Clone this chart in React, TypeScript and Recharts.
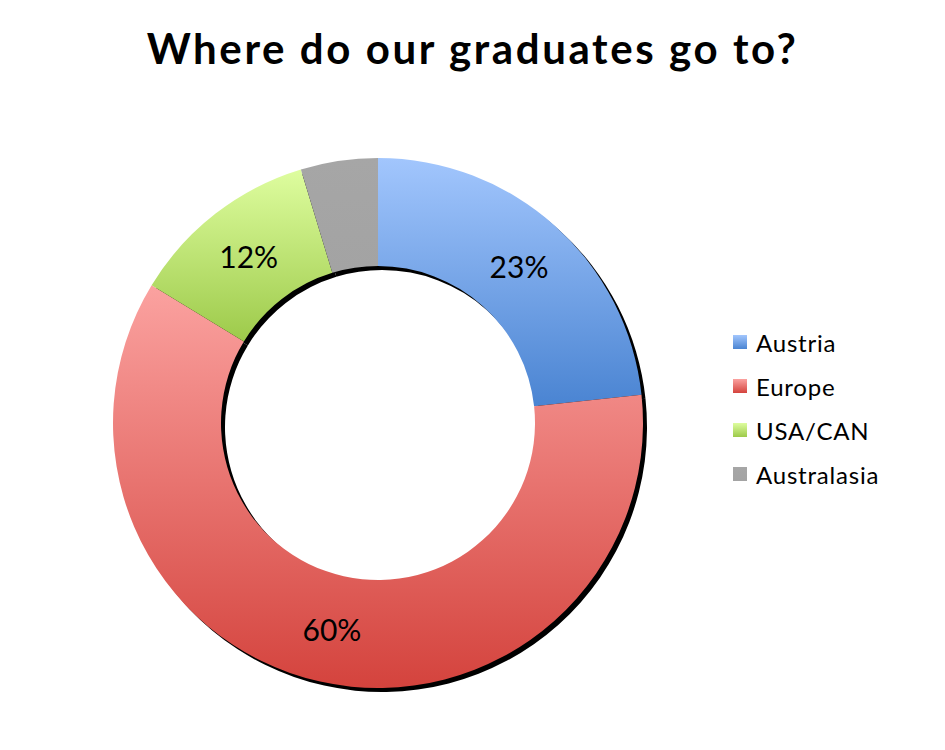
import { PieChart, Pie, Cell, Legend } from "recharts";

const REGIONS = ["Austria", "Europe", "USA/CAN", "Australasia"];
const SHARES = [23.3, 60.4, 11.6, 4.7];
const TOP_COLORS = ["#a2c6fd", "#fba2a0", "#defd9f", "#a6a6a6"];
const BOTTOM_COLORS = ["#4a84d2", "#d4433d", "#9dca4a", "#a3a3a3"];

const data = REGIONS.map((name, i) => ({ name, value: SHARES[i] }));

const FONT = "Lato, 'Open Sans', sans-serif";
const RAD = Math.PI / 180;

// labels sit in the middle of the ring, small slices get none
const renderLabel = (props: any) => {
  const { cx, cy, midAngle, innerRadius, outerRadius, value } = props;
  if (value < 8) return null;
  const r = (innerRadius + outerRadius) / 2;
  const x = cx + r * Math.cos(-midAngle * RAD);
  const y = cy + r * Math.sin(-midAngle * RAD);
  return (
    <text x={x} y={y} textAnchor="middle" dominantBaseline="central" fill="#000" fontSize={30} fontFamily={FONT}>
      {Math.round(value)}%
    </text>
  );
};

// the shadow pie also lands in the payload, so keep one entry per region in data order
const renderLegend = (props: any) => {
  const names = new Set((props.payload ?? []).map((p: any) => p.value));
  const items = REGIONS.filter((n) => names.has(n));
  return (
    <div>
      {items.map((name) => {
        const i = REGIONS.indexOf(name);
        return (
          <div key={name} style={{ display: "flex", alignItems: "center", height: 44 }}>
            <svg width={14} height={14} style={{ marginRight: 9 }}>
              <rect width={14} height={14} fill={`url(#leg${i})`} />
            </svg>
            <span style={{ fontFamily: FONT, fontSize: 24, letterSpacing: 0.8, color: "#000" }}>{name}</span>
          </div>
        );
      })}
    </div>
  );
};

export default function App() {
  return (
    <div style={{ position: "absolute", left: 0, top: 0, width: 945, height: 750, background: "#fff" }}>
      <div
        style={{
          position: "absolute",
          left: 0,
          top: 23,
          width: 945,
          textAlign: "center",
          fontFamily: FONT,
          fontWeight: 700,
          fontSize: 42,
          letterSpacing: 2.6,
          color: "#000",
        }}
      >
        Where do our graduates go to?
      </div>
      <PieChart width={945} height={750} margin={{ top: 0, right: 0, bottom: 0, left: 0 }}>
        <defs>
          {REGIONS.map((_, i) => (
            <linearGradient key={i} id={`grad${i}`} x1="0" y1="0" x2="0" y2="1">
              <stop offset="0%" stopColor={TOP_COLORS[i]} />
              <stop offset="100%" stopColor={BOTTOM_COLORS[i]} />
            </linearGradient>
          ))}
          {REGIONS.map((_, i) => (
            <linearGradient key={`l${i}`} id={`leg${i}`} x1="0" y1="0" x2="0" y2="1">
              <stop offset="0%" stopColor={TOP_COLORS[i]} />
              <stop offset="100%" stopColor={BOTTOM_COLORS[i]} />
            </linearGradient>
          ))}
        </defs>
        {/* hard black shadow, offset down-right */}
        <Pie
          data={data}
          dataKey="value"
          nameKey="name"
          cx={382}
          cy={427}
          innerRadius={157}
          outerRadius={265}
          startAngle={90}
          endAngle={-270}
          stroke="none"
          fill="#000"
          legendType="none"
          isAnimationActive={false}
        />
        <Pie
          data={data}
          dataKey="value"
          nameKey="name"
          cx={378}
          cy={423}
          innerRadius={157}
          outerRadius={265}
          startAngle={90}
          endAngle={-270}
          stroke="none"
          label={renderLabel}
          labelLine={false}
          isAnimationActive={false}
        >
          {data.map((d, i) => (
            <Cell key={d.name} fill={`url(#grad${i})`} />
          ))}
        </Pie>
        <Legend
          layout="vertical"
          content={renderLegend}
          wrapperStyle={{ left: 733, top: 320, width: 200 }}
        />
      </PieChart>
    </div>
  );
}
